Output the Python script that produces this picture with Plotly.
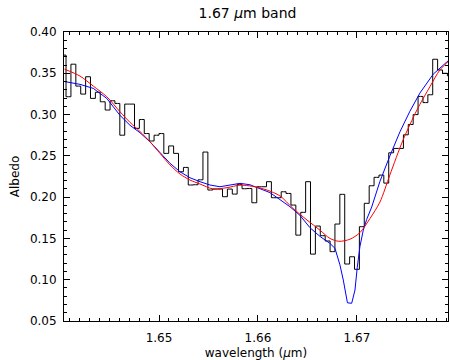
import plotly.graph_objects as go

# Histogram (observed spectrum), bin centres in micron
obs_wl = [1.64036, 1.64085, 1.64135, 1.64184, 1.64234, 1.64283, 1.64332, 1.64382,
          1.64431, 1.64481, 1.64530, 1.64579, 1.64629, 1.64678, 1.64728, 1.64777,
          1.64826, 1.64876, 1.64925, 1.64975, 1.65024, 1.65073, 1.65123, 1.65172,
          1.65222, 1.65271, 1.65320, 1.65370, 1.65419, 1.65469, 1.65518, 1.65567,
          1.65617, 1.65666, 1.65716, 1.65765, 1.65814, 1.65864, 1.65913, 1.65963,
          1.66012, 1.66061, 1.66111, 1.66160, 1.66210, 1.66259, 1.66308, 1.66358,
          1.66407, 1.66457, 1.66506, 1.66555, 1.66605, 1.66654, 1.66704, 1.66753,
          1.66802, 1.66852, 1.66901, 1.66951, 1.67000, 1.67049, 1.67099, 1.67148,
          1.67198, 1.67247, 1.67296, 1.67346, 1.67395, 1.67445, 1.67494, 1.67543,
          1.67593, 1.67642, 1.67692, 1.67741, 1.67790, 1.67840, 1.67889, 1.67939]
obs_albedo = [0.372, 0.3216, 0.361, 0.3345, 0.3248, 0.3458, 0.3196, 0.327,
              0.3155, 0.3055, 0.3167, 0.3135, 0.275, 0.3127, 0.3127, 0.2833,
              0.294, 0.277, 0.268, 0.275, 0.277, 0.253, 0.262, 0.253,
              0.2307, 0.236, 0.2147, 0.215, 0.221, 0.2546, 0.2086, 0.2098,
              0.2098, 0.2005, 0.2098, 0.2037, 0.2155, 0.2102, 0.2104, 0.1932,
              0.2126, 0.2126, 0.2187, 0.1993, 0.1993, 0.2065, 0.2045, 0.1904,
              0.154, 0.1816, 0.2187, 0.131, 0.165, 0.1533, 0.1469, 0.134,
              0.1674, 0.2034, 0.119, 0.1278, 0.1126, 0.1642, 0.1925, 0.2138,
              0.224, 0.2267, 0.217, 0.2537, 0.259, 0.259, 0.2755, 0.288,
              0.300, 0.322, 0.3145, 0.324, 0.367, 0.354, 0.350, 0.347]

# Red smooth model
red_wl = [1.64045, 1.64202, 1.64336, 1.64472, 1.64606, 1.64707, 1.64808, 1.64909,
          1.65010, 1.65111, 1.65212, 1.65313, 1.65414, 1.65545, 1.65687, 1.65818,
          1.65950, 1.66091, 1.66222, 1.66354, 1.66495, 1.66626, 1.66727, 1.66818,
          1.66929, 1.67030, 1.67131, 1.67232, 1.67333, 1.67465, 1.67606, 1.67737,
          1.67838, 1.67939]
red_albedo = [0.355, 0.3466, 0.3345, 0.3216, 0.3034, 0.2905, 0.2795, 0.267,
              0.253, 0.239, 0.228, 0.2207, 0.2159, 0.2100, 0.2115, 0.2145,
              0.2130, 0.2086, 0.2015, 0.1864, 0.1723, 0.1600, 0.1500, 0.1465,
              0.1490, 0.1570, 0.1740, 0.1940, 0.2270, 0.2690, 0.3055, 0.3337,
              0.3540, 0.3660]

# Blue model with narrow absorption
blue_wl = [1.64045, 1.64202, 1.64336, 1.64472, 1.64606, 1.64707, 1.64808, 1.64909,
           1.65010, 1.65111, 1.65212, 1.65313, 1.65414, 1.65515, 1.65616, 1.65717,
           1.65818, 1.65919, 1.66020, 1.66121, 1.66222, 1.66323, 1.66424, 1.66525,
           1.66626, 1.66727, 1.66778, 1.66828, 1.66862, 1.66904, 1.66947, 1.66980,
           1.67003, 1.67030, 1.67064, 1.67098, 1.67149, 1.67232, 1.67333, 1.67434,
           1.67535, 1.67636, 1.67771, 1.67869, 1.67939]
blue_albedo = [0.340, 0.3366, 0.3317, 0.3196, 0.299, 0.287, 0.278, 0.267,
               0.254, 0.241, 0.2307, 0.2235, 0.2187, 0.2147, 0.2126, 0.2147,
               0.2167, 0.2150, 0.2106, 0.2055, 0.1970, 0.1884, 0.178, 0.163,
               0.1525, 0.144, 0.138, 0.118, 0.0996, 0.072, 0.0715, 0.0875,
               0.115, 0.140, 0.160, 0.173, 0.188, 0.219, 0.250, 0.279,
               0.304, 0.326, 0.349, 0.360, 0.367]

x_ticks = [1.65, 1.66, 1.67]
y_ticks = [0.05, 0.10, 0.15, 0.20, 0.25, 0.30, 0.35, 0.40]

font_family = "DejaVu Sans"

fig = go.Figure()
fig.add_trace(go.Scatter(x=obs_wl, y=obs_albedo, mode="lines",
                         line=dict(color="black", width=1, shape="hvh"),
                         showlegend=False))
fig.add_trace(go.Scatter(x=blue_wl, y=blue_albedo, mode="lines",
                         line=dict(color="#0000ff", width=1),
                         showlegend=False))
fig.add_trace(go.Scatter(x=red_wl, y=red_albedo, mode="lines",
                         line=dict(color="#ff0000", width=1, shape="spline", smoothing=0.8),
                         showlegend=False))

axis_common = dict(showline=True, linecolor="black", linewidth=1, mirror="ticks",
                   ticks="inside", tickcolor="black", tickwidth=1, ticklen=6,
                   showgrid=False, zeroline=False, automargin=False,
                   tickfont=dict(family=font_family, size=12, color="black"))

fig.update_xaxes(range=[1.6404, 1.6792], tickvals=x_ticks, tickformat=".2f",
                 minor=dict(ticks="inside", dtick=0.001, ticklen=3, tickcolor="black"),
                 title=dict(text="wavelength (<i>μ</i>m)", standoff=4,
                            font=dict(family=font_family, size=12, color="black")),
                 ticklabelstandoff=6,
                 **axis_common)
fig.update_yaxes(range=[0.05, 0.40], tickvals=y_ticks, tickformat=".2f",
                 minor=dict(ticks="inside", dtick=0.01, ticklen=3, tickcolor="black"),
                 title=dict(text="Albedo", standoff=7,
                            font=dict(family=font_family, size=12, color="black")),
                 ticklabelstandoff=4,
                 **axis_common)

fig.update_layout(
    width=450, height=360,
    margin=dict(l=64, r=2, t=32, b=39, autoexpand=False),
    paper_bgcolor="white", plot_bgcolor="white",
    title=dict(text="1.67 <i>μ</i>m band", x=0.55, xanchor="center",
               y=1 - 13 / 360, yanchor="middle", yref="container",
               font=dict(family=font_family, size=14, color="black")),
)

fig.write_html("out.html",
               config={"displayModeBar": False},
               post_script="document.body.style.margin='0';"
                           "document.body.style.overflow='hidden';")
